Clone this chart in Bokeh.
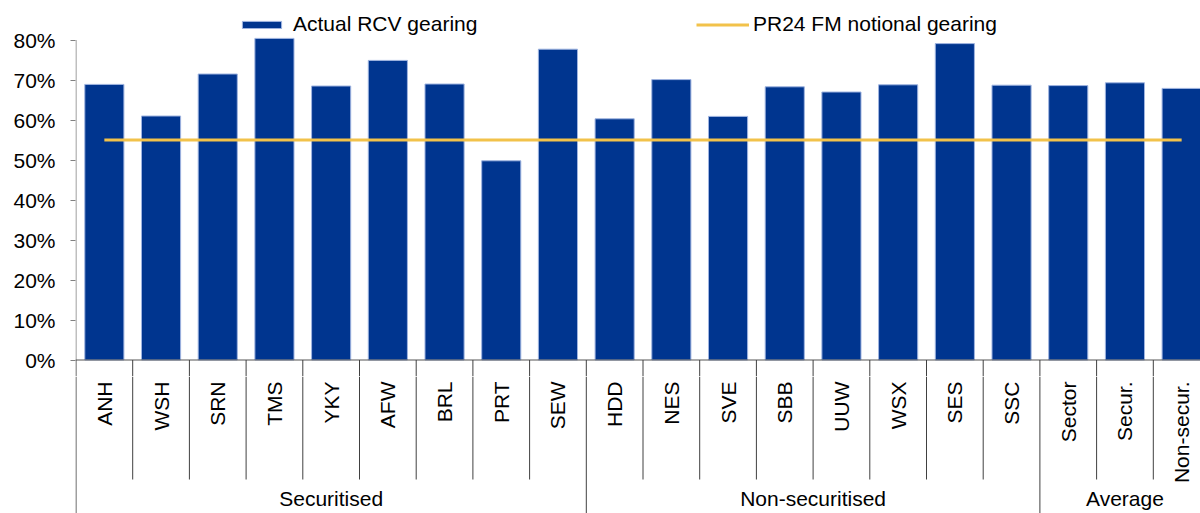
import math
from bokeh.plotting import figure
from bokeh.models import Range1d, FixedTicker, NumeralTickFormatter, Legend, LegendItem
from bokeh.layouts import column
from bokeh.embed import file_html
from bokeh.resources import INLINE
from bokeh.core.properties import value

# ---------------- data ----------------
categories = ["ANH", "WSH", "SRN", "TMS", "YKY", "AFW", "BRL", "PRT", "SEW",
              "HDD", "NES", "SVE", "SBB", "UUW", "WSX", "SES", "SSC",
              "Sector", "Secur.", "Non-secur."]
actual_gearing = [0.689, 0.610, 0.715, 0.804, 0.685, 0.749, 0.690, 0.498, 0.777,
                  0.603, 0.701, 0.609, 0.683, 0.670, 0.688, 0.791, 0.687,
                  0.686, 0.693, 0.679]
notional_gearing = 0.55
groups = ["Securitised", "Non-securitised", "Average"]
group_sizes = [9, 8, 3]
y_ticks = [0.0, 0.1, 0.2, 0.3, 0.4, 0.5, 0.6, 0.7, 0.8]

FONT = "Liberation Sans"
FS = "21px"
BAR = "#00358F"
YELLOW = "#F2C24A"

n = len(categories)
xs = [i + 0.5 for i in range(n)]
PX = 56.7  # px per category
TOP_H = 376          # height of the main figure (page px)
ZERO_Y = 359.5       # page y of 0 %
SCALE = 400.0        # px per unit (100 %)

x_range = Range1d(-0.5 / PX, (1200 - 75.5) / PX)
y_start = -(TOP_H - ZERO_Y) / SCALE
y_end = ZERO_Y / SCALE

# ---------------- main chart ----------------
p = figure(width=1200, height=TOP_H, x_range=x_range,
           y_range=Range1d(y_start, y_end),
           x_axis_type=None, output_backend="svg", toolbar_location=None,
           min_border_left=75, min_border_right=0, min_border_top=0, min_border_bottom=0)
p.grid.visible = False
p.outline_line_color = None

ya = p.yaxis[0]
ya.ticker = FixedTicker(ticks=y_ticks)
ya.formatter = NumeralTickFormatter(format="0%")
ya.axis_line_color = None
ya.major_tick_out = 5
ya.major_tick_in = 0
ya.minor_tick_out = 0
ya.minor_tick_in = 0
ya.major_tick_line_color = "#808080"
ya.major_label_standoff = 15
ya.major_label_text_font = FONT
ya.major_label_text_font_size = FS
ya.major_label_text_color = "#000000"

bars = p.vbar(x=xs, top=actual_gearing, bottom=0, width=0.69,
              fill_color=BAR, line_color="#9FB4E0", line_width=1)

line = p.line(x=[xs[0], xs[-1]], y=[notional_gearing, notional_gearing],
              line_color=YELLOW, line_width=3)

# y axis line and x axis line
p.segment(x0=[0], y0=[0], x1=[0], y1=[y_ticks[-1]], line_color="#808080", line_width=1)
p.segment(x0=[x_range.start], y0=[0], x1=[n], y1=[0], line_color="#555555", line_width=1)
# category separators, upper part (below the axis line)
p.segment(x0=list(range(n + 1)), y0=[0] * (n + 1), x1=list(range(n + 1)),
          y1=[y_start] * (n + 1), line_color="#404040", line_width=1)

leg1 = Legend(items=[LegendItem(label="Actual RCV gearing", renderers=[bars])],
              location=(237 - 75, TOP_H - 24.5 - 11.5), orientation="horizontal",
              glyph_width=49, glyph_height=9, label_standoff=7,
              padding=0, margin=0, spacing=0, border_line_color=None,
              background_fill_alpha=0, label_text_font=FONT,
              label_text_font_size=FS, label_text_color="#000000")
leg2 = Legend(items=[LegendItem(label="PR24 FM notional gearing", renderers=[line])],
              location=(696 - 75, TOP_H - 24.5 - 11.5), orientation="horizontal",
              glyph_width=53, glyph_height=9, label_standoff=4,
              padding=0, margin=0, spacing=0, border_line_color=None,
              background_fill_alpha=0, label_text_font=FONT,
              label_text_font_size=FS, label_text_color="#000000")
p.add_layout(leg1, "center")
p.add_layout(leg2, "center")

# ---------------- category axis area ----------------
b = figure(width=1200, height=513 - TOP_H, x_range=x_range, y_range=Range1d(513, TOP_H),
           x_axis_type=None, y_axis_type=None, output_backend="svg",
           toolbar_location=None, min_border_left=75, min_border_right=0,
           min_border_top=0, min_border_bottom=0)
b.grid.visible = False
b.outline_line_color = None

group_edges = [0]
for s in group_sizes:
    group_edges.append(group_edges[-1] + s)
short_edges = [i for i in range(1, n) if i not in group_edges]

b.segment(x0=short_edges, y0=[TOP_H] * len(short_edges), x1=short_edges,
          y1=[479] * len(short_edges), line_color="#404040", line_width=1)
b.segment(x0=group_edges, y0=[TOP_H] * len(group_edges), x1=group_edges,
          y1=[513] * len(group_edges), line_color="#404040", line_width=1)

b.text(x=xs, y=[381] * n, text=categories, angle=math.pi / 2,
       text_align="right", text_baseline="middle",
       text_font=value(FONT), text_font_size=FS, text_color="#000000")

group_centers = [(group_edges[i] + group_edges[i + 1]) / 2 for i in range(len(groups))]
b.text(x=group_centers, y=[498] * len(groups), text=groups,
       text_align="center", text_baseline="middle",
       text_font=value(FONT), text_font_size=FS, text_color="#000000")

layout = column(p, b, spacing=0)
open("out.html", "w").write(file_html(layout, INLINE))
